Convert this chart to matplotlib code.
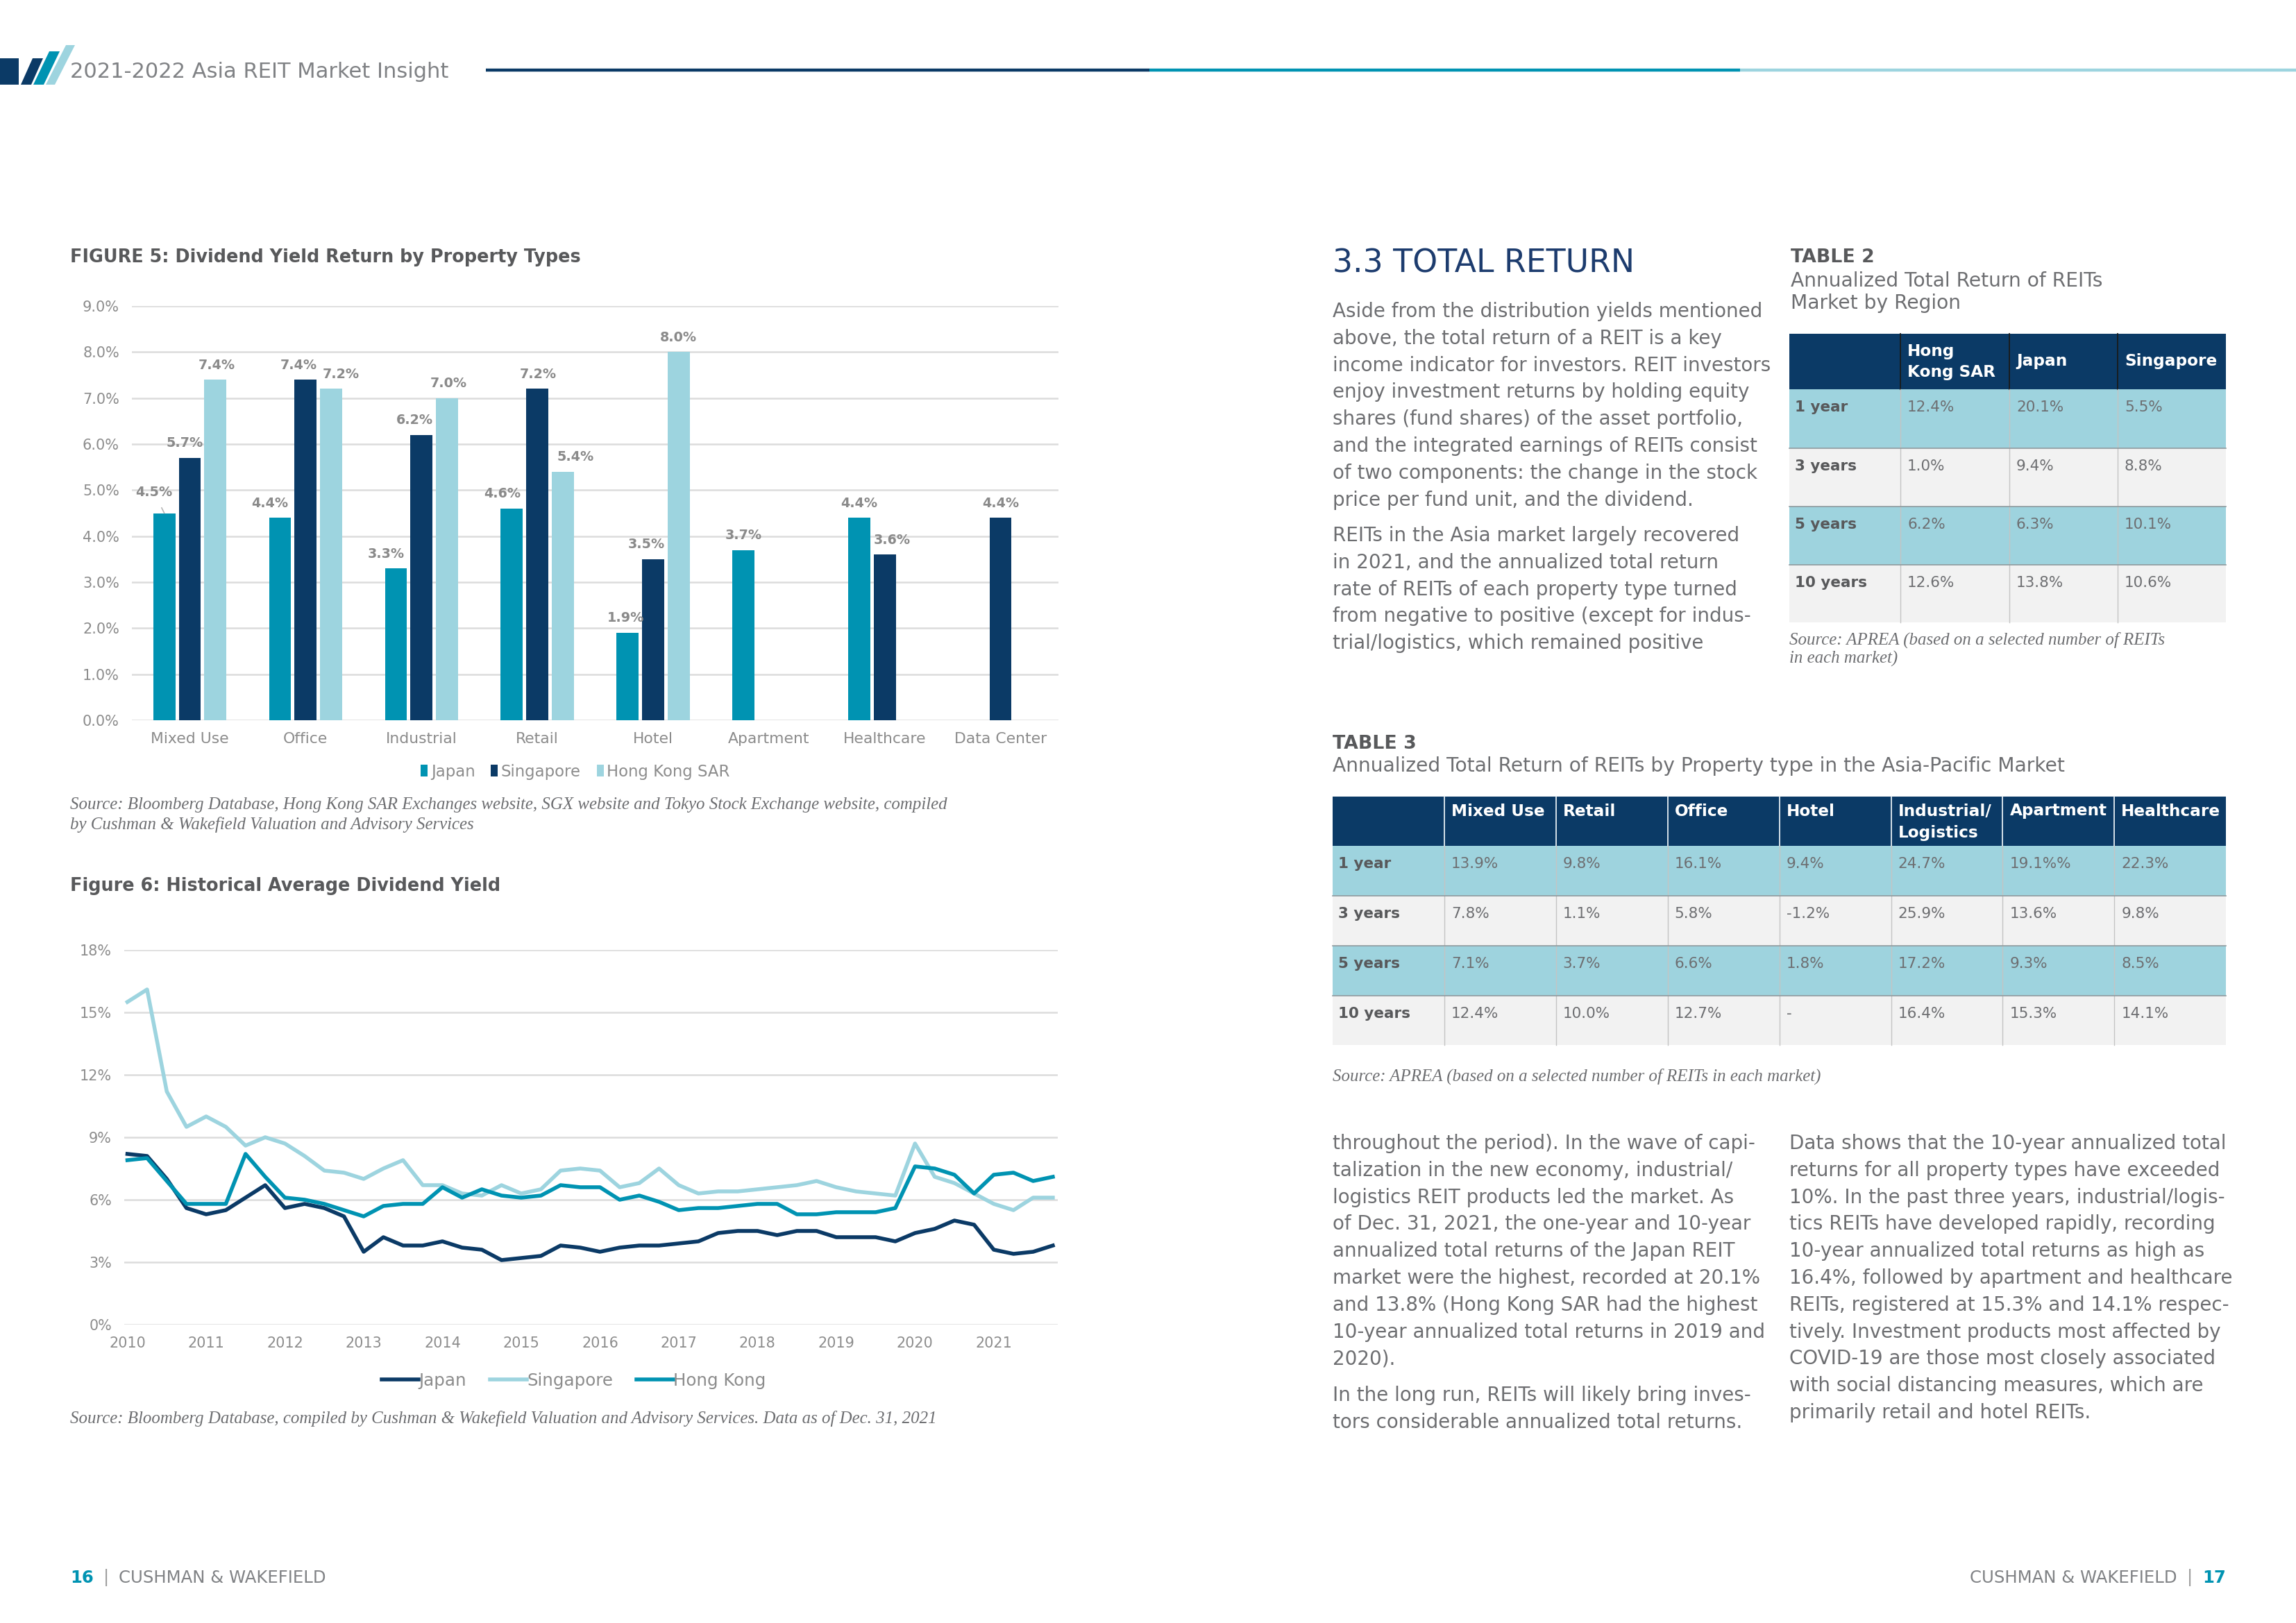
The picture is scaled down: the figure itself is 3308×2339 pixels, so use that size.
import matplotlib
matplotlib.use("Agg")
import matplotlib.pyplot as plt
from matplotlib.patches import Rectangle, Polygon
from matplotlib.lines import Line2D
from matplotlib.font_manager import FontProperties
import numpy as np

SANS = ["DejaVu Sans"]
SERIF = ["Liberation Serif", "DejaVu Serif"]
plt.rcParams['font.family'] = SANS

W, H = 3308, 2339

# ------------------------------------------------------------------ data
categories = ["Mixed Use", "Office", "Industrial", "Retail", "Hotel",
              "Apartment", "Healthcare", "Data Center"]
bar_series = ["Japan", "Singapore", "Hong Kong SAR"]
japan_yield = [4.5, 4.4, 3.3, 4.6, 1.9, 3.7, 4.4, None]
singapore_yield = [5.7, 7.4, 6.2, 7.2, 3.5, None, 3.6, 4.4]
hongkong_yield = [7.4, 7.2, 7.0, 5.4, 8.0, None, None, None]

years = list(range(2010, 2022))
line_series = ["Japan", "Singapore", "Hong Kong"]
japan_hist = [8.2, 8.1, 7.0, 5.6, 5.3, 5.5, 6.1, 6.7, 5.6, 5.8, 5.6, 5.2,
              3.5, 4.2, 3.8, 3.8, 4.0, 3.7, 3.6, 3.1, 3.2, 3.3, 3.8, 3.7,
              3.5, 3.7, 3.8, 3.8, 3.9, 4.0, 4.4, 4.5, 4.5, 4.3, 4.5, 4.5,
              4.2, 4.2, 4.2, 4.0, 4.4, 4.6, 5.0, 4.8, 3.6, 3.4, 3.5, 3.8]
singapore_hist = [15.5, 16.1, 11.2, 9.5, 10.0, 9.5, 8.6, 9.0, 8.7, 8.1, 7.4, 7.3,
                  7.0, 7.5, 7.9, 6.7, 6.7, 6.3, 6.2, 6.7, 6.3, 6.5, 7.4, 7.5,
                  7.4, 6.6, 6.8, 7.5, 6.7, 6.3, 6.4, 6.4, 6.5, 6.6, 6.7, 6.9,
                  6.6, 6.4, 6.3, 6.2, 8.7, 7.1, 6.8, 6.3, 5.8, 5.5, 6.1, 6.1]
hongkong_hist = [7.9, 8.0, 6.9, 5.8, 5.8, 5.8, 8.2, 7.1, 6.1, 6.0, 5.8, 5.5,
                 5.2, 5.7, 5.8, 5.8, 6.6, 6.1, 6.5, 6.2, 6.1, 6.2, 6.7, 6.6,
                 6.6, 6.0, 6.2, 5.9, 5.5, 5.6, 5.6, 5.7, 5.8, 5.8, 5.3, 5.3,
                 5.4, 5.4, 5.4, 5.6, 7.6, 7.5, 7.2, 6.3, 7.2, 7.3, 6.9, 7.1]

t2_header = ["", "Hong\nKong SAR", "Japan", "Singapore"]
t2_rows = ["1 year", "3 years", "5 years", "10 years"]
t2_values = [["12.4%", "20.1%", "5.5%"],
             ["1.0%", "9.4%", "8.8%"],
             ["6.2%", "6.3%", "10.1%"],
             ["12.6%", "13.8%", "10.6%"]]

t3_header = ["", "Mixed Use", "Retail", "Office", "Hotel", "Industrial/\nLogistics",
             "Apartment", "Healthcare"]
t3_rows = ["1 year", "3 years", "5 years", "10 years"]
t3_values = [["13.9%", "9.8%", "16.1%", "9.4%", "24.7%", "19.1%%", "22.3%"],
             ["7.8%", "1.1%", "5.8%", "-1.2%", "25.9%", "13.6%", "9.8%"],
             ["7.1%", "3.7%", "6.6%", "1.8%", "17.2%", "9.3%", "8.5%"],
             ["12.4%", "10.0%", "12.7%", "-", "16.4%", "15.3%", "14.1%"]]

para1 = ["Aside from the distribution yields mentioned",
         "above, the total return of a REIT is a key",
         "income indicator for investors. REIT investors",
         "enjoy investment returns by holding equity",
         "shares (fund shares) of the asset portfolio,",
         "and the integrated earnings of REITs consist",
         "of two components: the change in the stock",
         "price per fund unit, and the dividend."]
para2 = ["REITs in the Asia market largely recovered",
         "in 2021, and the annualized total return",
         "rate of REITs of each property type turned",
         "from negative to positive (except for indus-",
         "trial/logistics, which remained positive"]
para3 = ["throughout the period). In the wave of capi-",
         "talization in the new economy, industrial/",
         "logistics REIT products led the market. As",
         "of Dec. 31, 2021, the one-year and 10-year",
         "annualized total returns of the Japan REIT",
         "market were the highest, recorded at 20.1%",
         "and 13.8% (Hong Kong SAR had the highest",
         "10-year annualized total returns in 2019 and",
         "2020)."]
para4 = ["In the long run, REITs will likely bring inves-",
         "tors considerable annualized total returns."]
para5 = ["Data shows that the 10-year annualized total",
         "returns for all property types have exceeded",
         "10%. In the past three years, industrial/logis-",
         "tics REITs have developed rapidly, recording",
         "10-year annualized total returns as high as",
         "16.4%, followed by apartment and healthcare",
         "REITs, registered at 15.3% and 14.1% respec-",
         "tively. Investment products most affected by",
         "COVID-19 are those most closely associated",
         "with social distancing measures, which are",
         "primarily retail and hotel REITs."]

# ------------------------------------------------------------------ style
NAVY = "#0b3a66"
TEAL = "#0093b2"
LIGHT = "#9dd4df"
ROWLIGHT = "#9ed3de"
ROWGRAY = "#f2f2f2"
TXT = "#6d6e71"
TITLE = "#58595b"
TICK = "#8c8c8c"
GRID = "#dcdcdc"

fig = plt.figure(figsize=(W / 100, H / 100), dpi=100)
page = fig.add_axes([0, 0, 1, 1], zorder=0)
page.set_xlim(0, W)
page.set_ylim(H, 0)
page.axis("off")
renderer = fig.canvas.get_renderer()


def measure(s, size, family=SANS, weight="normal", style="normal"):
    fp = FontProperties(family=family, weight=weight, style=style, size=size)
    w, _, _ = renderer.get_text_width_height_descent(s, fp, ismath=False)
    return w


def fit(s, target, family=SANS, weight="normal", style="normal", base=20.0):
    """font size (pt) so that string s is target px wide"""
    return base * target / measure(s, base, family, weight, style)


def rect(x0, y0, x1, y1):
    return [x0 / W, 1 - y1 / H, (x1 - x0) / W, (y1 - y0) / H]


def px2pt(v):
    return v * 72 / 100


# font sizes fitted to the widths measured on the reference
FS_BODY = fit(para1[0], 620)
FS_HEAD = fit("2021-2022 Asia REIT Market Insight", 546)
FS_FIGT = fit("FIGURE 5: Dividend Yield Return by Property Types", 736, weight="bold")
FS_SEC = fit("3.3 TOTAL RETURN", 435)
FS_TTL = fit("TABLE 2", 120, weight="bold")
FS_TSUB = fit("Annualized Total Return of REITs by Property type in the Asia-Pacific Market", 1057)
FS_SRC = fit("Source: Bloomberg Database, Hong Kong SAR Exchanges website, SGX website and Tokyo Stock Exchange website, compiled",
             1266, family=SERIF, style="italic")
FS_TSRC = fit("Source: APREA (based on a selected number of REITs in each market)", 703,
              family=SERIF, style="italic")
FS_THDR = fit("Singapore", 133, weight="bold")
FS_TROW = fit("10 years", 104, weight="bold")
FS_TVAL = fit("12.4%", 68)
FS_DLAB = fit("7.4%", 53, weight="bold")
FS_YT1 = fit("9.0%", 53)
FS_CAT = fit("Data Center", 133)
FS_LEG1 = fit("Hong Kong SAR", 177)
FS_YT2 = fit("18%", 46)
FS_YR = fit("2010", 53)
FS_LEG2 = fit("Hong Kong", 133)
FS_FOOT = fit("CUSHMAN & WAKEFIELD", 300)

# ------------------------------------------------------------------ header
page.add_patch(Rectangle((0, 84), 27, 38, color=NAVY, lw=0))
page.add_patch(Polygon([(30, 122), (45, 122), (62, 84), (47, 84)], color=NAVY, lw=0))
page.add_patch(Polygon([(48, 122), (63, 122), (86, 74), (71, 74)], color=TEAL, lw=0))
page.add_patch(Polygon([(66, 122), (79, 122), (108, 65), (95, 65)], color=LIGHT, lw=0))
page.text(101, 104, "2021-2022 Asia REIT Market Insight", fontsize=FS_HEAD, color="#808285",
          va="center", ha="left")
page.plot([700, 1656], [101, 101], color=NAVY, lw=3.2, solid_capstyle="butt")
page.plot([1656, 2507], [101, 101], color=TEAL, lw=3.2, solid_capstyle="butt")
page.plot([2507, 3308], [101, 101], color=LIGHT, lw=3.2, solid_capstyle="butt")

# ------------------------------------------------------------------ figure 5
page.text(101, 371, "FIGURE 5: Dividend Yield Return by Property Types", fontsize=FS_FIGT,
          fontweight="bold", color=TITLE, va="center")
ax1 = fig.add_axes(rect(190, 441, 1525, 1038), zorder=1)
ax1.set_xlim(-0.5, len(categories) - 0.5)
ax1.set_ylim(0, 9)
offsets = [-0.22, 0.0, 0.22]
colors = [TEAL, NAVY, LIGHT]
series_vals = [japan_yield, singapore_yield, hongkong_yield]
# label nudges (px) per series/category to mimic the manual label placement
nudges = {(0, 0): (-15, 30), (1, 0): (-7, 21), (2, 0): (2, 21),
          (0, 1): (-15, 21), (1, 1): (-10, 21), (2, 1): (14, 21),
          (0, 2): (-14, 21), (1, 2): (-10, 21), (2, 2): (2, 21),
          (0, 3): (-14, 21), (1, 3): (1, 21), (2, 3): (18, 21),
          (0, 4): (-3, 21), (1, 4): (-10, 21), (2, 4): (0, 21),
          (0, 5): (0, 21), (0, 6): (0, 21), (1, 6): (11, 21), (1, 7): (0, 21)}
for s, (vals, col, off) in enumerate(zip(series_vals, colors, offsets)):
    xs = [i + off for i, v in enumerate(vals) if v is not None]
    hs = [v for v in vals if v is not None]
    ax1.bar(xs, hs, width=0.19, color=col, zorder=2, lw=0)
    for i, v in enumerate(vals):
        if v is None:
            continue
        dx, dy = nudges.get((s, i), (0, 21))
        kw = {}
        if (s, i) == (0, 0):
            kw = dict(arrowprops=dict(arrowstyle="-", color="#b5b5b5", lw=1.2,
                                      shrinkA=8, shrinkB=0))
        ax1.annotate(f"{v:.1f}%", xy=(i + off, v), xytext=(px2pt(dx), px2pt(dy)),
                     textcoords="offset points", ha="center", va="center",
                     fontsize=FS_DLAB, fontweight="bold", color="#8a8a8a", **kw)
ax1.set_yticks(np.arange(0, 9.01, 1))
ax1.set_yticklabels([f"{v:.1f}%" for v in np.arange(0, 9.01, 1)], fontsize=FS_YT1)
ax1.set_xticks(range(len(categories)))
ax1.set_xticklabels(categories, fontsize=FS_CAT)
ax1.yaxis.grid(True, color=GRID, lw=1.8)
ax1.set_axisbelow(True)
for sp in ax1.spines.values():
    sp.set_visible(False)
ax1.tick_params(axis="both", length=0, labelcolor=TICK)
ax1.tick_params(axis="y", pad=13)
ax1.tick_params(axis="x", pad=12)
handles = [Rectangle((0, 0), 1, 1, color=c, lw=0) for c in colors]
em1 = FS_LEG1 * 100 / 72
fig.legend(handles, bar_series, loc="center", bbox_to_anchor=(829 / W, 1 - 1112 / H),
           ncol=3, frameon=False, handlelength=10 / em1, handleheight=17 / em1,
           handletextpad=0.2, columnspacing=1.0, fontsize=FS_LEG1, labelcolor=TICK)
page.text(101, 1160, "Source: Bloomberg Database, Hong Kong SAR Exchanges website, SGX website and Tokyo Stock Exchange website, compiled",
          family=SERIF, style="italic", fontsize=FS_SRC, color=TXT, va="center")
page.text(101, 1188, "by Cushman & Wakefield Valuation and Advisory Services",
          family=SERIF, style="italic", fontsize=FS_SRC, color=TXT, va="center")

# ------------------------------------------------------------------ figure 6
page.text(101, 1277, "Figure 6: Historical Average Dividend Yield", fontsize=FS_FIGT,
          fontweight="bold", color=TITLE, va="center")
ax2 = fig.add_axes(rect(179, 1369, 1524, 1909), zorder=1)
xq = np.arange(len(japan_hist))
line_cols = [NAVY, LIGHT, TEAL]
for vals, col in zip([japan_hist, singapore_hist, hongkong_hist], line_cols):
    ax2.plot(xq, vals, color=col, lw=4.0, solid_joinstyle="round", zorder=2)
ax2.set_xlim(-0.16, 47.25)
ax2.set_ylim(0, 18)
ax2.set_yticks(range(0, 19, 3))
ax2.set_yticklabels([f"{v}%" for v in range(0, 19, 3)], fontsize=FS_YT2)
ax2.set_xticks([4 * k for k in range(len(years))])
ax2.set_xticklabels([str(y) for y in years], fontsize=FS_YR)
ax2.yaxis.grid(True, color=GRID, lw=1.8)
ax2.set_axisbelow(True)
for sp in ax2.spines.values():
    sp.set_visible(False)
ax2.tick_params(axis="both", length=0, labelcolor=TICK)
ax2.tick_params(axis="y", pad=13)
ax2.tick_params(axis="x", pad=12)
lh = [Line2D([0], [0], color=c, lw=4.0) for c in line_cols]
em2 = FS_LEG2 * 100 / 72
fig.legend(lh, line_series, loc="center", bbox_to_anchor=(827 / W, 1 - 1990 / H),
           ncol=3, frameon=False, handlelength=53 / em2, handletextpad=0.0,
           columnspacing=1.4, fontsize=FS_LEG2, labelcolor=TICK)
page.text(101, 2044, "Source: Bloomberg Database, compiled by Cushman & Wakefield Valuation and Advisory Services. Data as of Dec. 31, 2021",
          family=SERIF, style="italic", fontsize=FS_SRC, color=TXT, va="center")

# ------------------------------------------------------------------ right page text
page.text(1920, 380, "3.3 TOTAL RETURN", fontsize=FS_SEC, color="#1d3c6e", va="center")


def para(x, y0, lines, step=38.8):
    for k, ln in enumerate(lines):
        page.text(x, y0 + k * step, ln, fontsize=FS_BODY, color=TXT, va="center")


para(1920, 449, para1)
para(1920, 772, para2)
para(1920, 1648, para3)
para(1920, 2011, para4)
para(2578, 1648, para5)

# table titles
page.text(2580, 371, "TABLE 2", fontsize=FS_TTL, fontweight="bold", color=TITLE, va="center")
page.text(2580, 405, "Annualized Total Return of REITs", fontsize=FS_TSUB, color=TXT, va="center")
page.text(2580, 437, "Market by Region", fontsize=FS_TSUB, color=TXT, va="center")
page.text(2578, 922, "Source: APREA (based on a selected number of REITs",
          family=SERIF, style="italic", fontsize=FS_TSRC, color=TXT, va="center")
page.text(2578, 949, "in each market)",
          family=SERIF, style="italic", fontsize=FS_TSRC, color=TXT, va="center")

page.text(1920, 1072, "TABLE 3", fontsize=FS_TTL, fontweight="bold", color=TITLE, va="center")
page.text(1920, 1104, "Annualized Total Return of REITs by Property type in the Asia-Pacific Market",
          fontsize=FS_TSUB, color=TXT, va="center")
page.text(1920, 1551, "Source: APREA (based on a selected number of REITs in each market)",
          family=SERIF, style="italic", fontsize=FS_TSRC, color=TXT, va="center")


def draw_table(xe, ye, header, rows, values, hdr_sep, hdr_mode):
    x0, x1 = xe[0], xe[-1]
    page.add_patch(Rectangle((x0, ye[0]), x1 - x0, ye[1] - ye[0], color=NAVY, lw=0))
    for r in range(len(rows)):
        c = ROWLIGHT if r % 2 == 0 else ROWGRAY
        page.add_patch(Rectangle((x0, ye[r + 1]), x1 - x0, ye[r + 2] - ye[r + 1], color=c, lw=0))
    for x in xe[1:-1]:
        page.plot([x, x], [ye[0], ye[1]], color=hdr_sep, lw=1.3)
        page.plot([x, x], [ye[1], ye[-1]], color="#c4c4c4", lw=1.0)
    for y in ye[2:-1]:
        page.plot([x0, x1], [y, y], color="#8f9a9e", lw=1.2)
    for j, h in enumerate(header):
        lines = h.split("\n")
        if hdr_mode == "center":
            mid = (ye[0] + ye[1]) / 2
            ys = [mid + (k - (len(lines) - 1) / 2) * 30 for k in range(len(lines))]
        else:
            ys = [ye[0] + 21 + k * 31 for k in range(len(lines))]
        for ln, yy in zip(lines, ys):
            page.text(xe[j] + 10, yy, ln, fontsize=FS_THDR, fontweight="bold", color="white",
                      va="center")
    for r, lab in enumerate(rows):
        yy = ye[r + 1] + 26
        page.text(xe[0] + 8, yy, lab, fontsize=FS_TROW, fontweight="bold", color=TITLE, va="center")
        for j, v in enumerate(values[r]):
            page.text(xe[j + 1] + 10, yy, v, fontsize=FS_TVAL, color=TXT, va="center")


draw_table([2578, 2738, 2895, 3051, 3207], [481, 561, 646, 730, 814, 897],
           t2_header, t2_rows, t2_values, "#1a1a1a", "center")
draw_table([1920 + 160.9 * k for k in range(9)], [1148, 1219, 1291, 1363, 1435, 1506],
           t3_header, t3_rows, t3_values, "#e6eef3", "top")

# ------------------------------------------------------------------ footer
FOOT = "CUSHMAN & WAKEFIELD"
w16 = measure("16", FS_FOOT, weight="bold")
wbar = measure("|", FS_FOOT)
wtxt = measure(FOOT, FS_FOOT)
gap = 14
xl = 101
page.text(xl, 2274, "16", fontsize=FS_FOOT, fontweight="bold", color=TEAL, va="center")
page.text(xl + w16 + gap, 2274, "|", fontsize=FS_FOOT, color="#9a9a9a", va="center")
page.text(xl + w16 + gap + wbar + gap, 2274, FOOT, fontsize=FS_FOOT, color="#808285", va="center")
xr = 3207
page.text(xr, 2274, "17", fontsize=FS_FOOT, fontweight="bold", color=TEAL, va="center", ha="right")
w17 = measure("17", FS_FOOT, weight="bold")
page.text(xr - w17 - gap, 2274, "|", fontsize=FS_FOOT, color="#9a9a9a", va="center", ha="right")
page.text(xr - w17 - gap - wbar - gap, 2274, FOOT, fontsize=FS_FOOT, color="#808285",
          va="center", ha="right")

fig.savefig("out.png", dpi=100, facecolor="white")
